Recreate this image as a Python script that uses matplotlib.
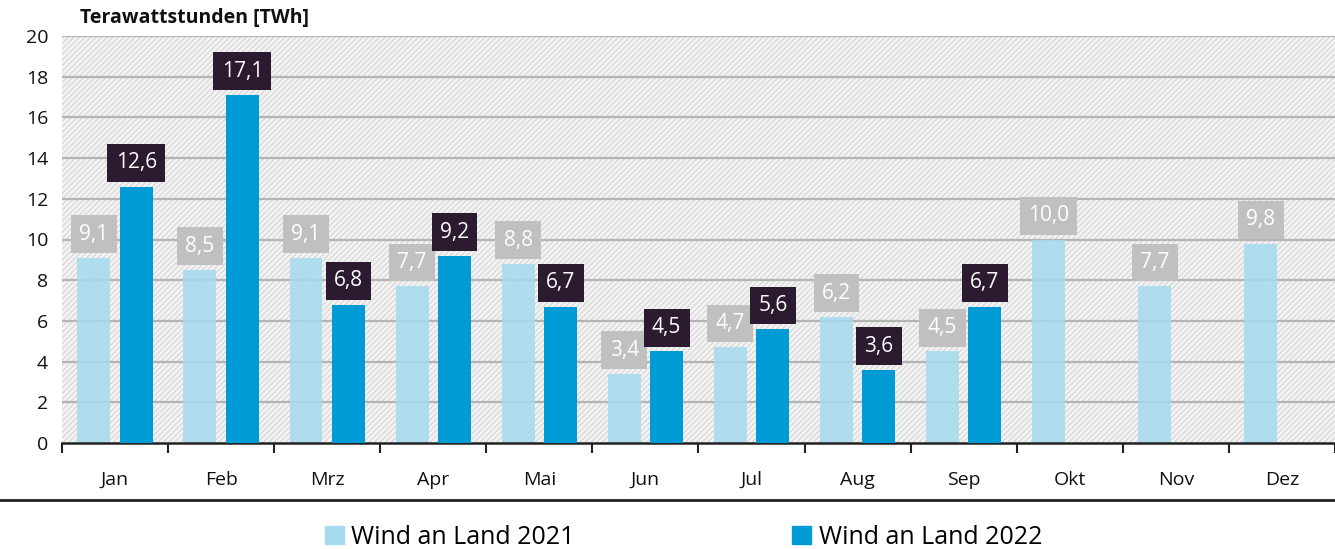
import matplotlib
matplotlib.use("Agg")
import matplotlib.pyplot as plt
import matplotlib.patches as mpatches
from matplotlib.lines import Line2D
import numpy as np

months = ["Jan", "Feb", "Mrz", "Apr", "Mai", "Jun", "Jul", "Aug", "Sep", "Okt", "Nov", "Dez"]
wind_2021 = [9.1, 8.5, 9.1, 7.7, 8.8, 3.4, 4.7, 6.2, 4.5, 10.0, 7.7, 9.8]
wind_2022 = [12.6, 17.1, 6.8, 9.2, 6.7, 4.5, 5.6, 3.6, 6.7]
y_ticks = [0, 2, 4, 6, 8, 10, 12, 14, 16, 18, 20]
series_names = ["Wind an Land 2021", "Wind an Land 2022"]
y_title = "Terawattstunden [TWh]"

c21 = "#a5dbef"
c22 = "#009bd5"
box21 = "#c0c0c0"
box22 = "#2c1a30"

plt.rcParams['font.family'] = ['Open Sans', 'DejaVu Sans']
plt.rcParams['hatch.linewidth'] = 1.0
plt.rcParams['hatch.color'] = '#d6d6d6'

fig = plt.figure(figsize=(13.35, 5.49), dpi=100)
ax = fig.add_axes([62/1335, 1-443/549, 1-62/1335, (443-36)/549])

n = len(months)
x = np.arange(n)
bw = 0.31
off = 0.2

ax.set_xlim(-0.5, n-0.5)
ax.set_ylim(0, 20)

# hatched background
bg = mpatches.Rectangle((0, 0), 1, 1, transform=ax.transAxes, facecolor='#f4f4f4',
                        edgecolor='#d9d9d9', hatch='//////', linewidth=0, zorder=0)
ax.add_patch(bg)
ax.set_facecolor('white')

for yv in y_ticks[1:]:
    ax.axhline(yv, color='#b4b4b4', linewidth=1.6, zorder=1)

b1 = ax.bar(x - off, wind_2021, width=bw, color=c21, alpha=0.85, zorder=2, linewidth=0)
x22 = x[:len(wind_2022)]
b2 = ax.bar(x22 + off, wind_2022, width=bw, color=c22, zorder=3, linewidth=0)

def fmt(v):
    return f"{v:.1f}".replace('.', ',')

for xs, vals, bc in ((x - off, wind_2021, box21), (x22 + off, wind_2022, box22)):
    for xi, v in zip(xs, vals):
        ax.annotate(fmt(v), (xi, v), xytext=(0, 9.5), textcoords='offset points',
                    ha='center', va='bottom', fontsize=15, color='white',
                    bbox=dict(boxstyle='square,pad=0.4', facecolor=bc, edgecolor='none'),
                    zorder=5)

ax.set_yticks(y_ticks)
ax.set_yticklabels([str(v) for v in y_ticks], fontsize=14, color='#111111')
ax.tick_params(axis='y', length=0, pad=10)

ax.set_xticks(np.arange(-0.5, n, 1.0))
ax.set_xticklabels([])
ax.tick_params(axis='x', which='major', length=7, width=1.5, direction='out', color='#222222')
ax.set_xticks(x, minor=True)
ax.set_xticklabels(months, minor=True, fontsize=14, color='#111111')
ax.tick_params(axis='x', which='minor', length=0, pad=20)

for s in ['top', 'right', 'left']:
    ax.spines[s].set_visible(False)
ax.spines['bottom'].set_linewidth(1.8)
ax.spines['bottom'].set_color('#222222')

fig.text(80/1335, 1-18/549, y_title, fontsize=14, fontweight='bold', va='center', ha='left', color='#111111')

fig.add_artist(Line2D([0, 1], [1-500/549, 1-500/549], transform=fig.transFigure, color='#222222', linewidth=2))

handles = [mpatches.Patch(color=c21), mpatches.Patch(color=c22)]
fig.legend(handles, series_names, loc='center', bbox_to_anchor=(0.512, 1-537/549), ncol=2,
           frameon=False, fontsize=18, handlelength=0.75, handleheight=0.75, handletextpad=0.3,
           columnspacing=8.7)

fig.savefig("out.png", dpi=100)
